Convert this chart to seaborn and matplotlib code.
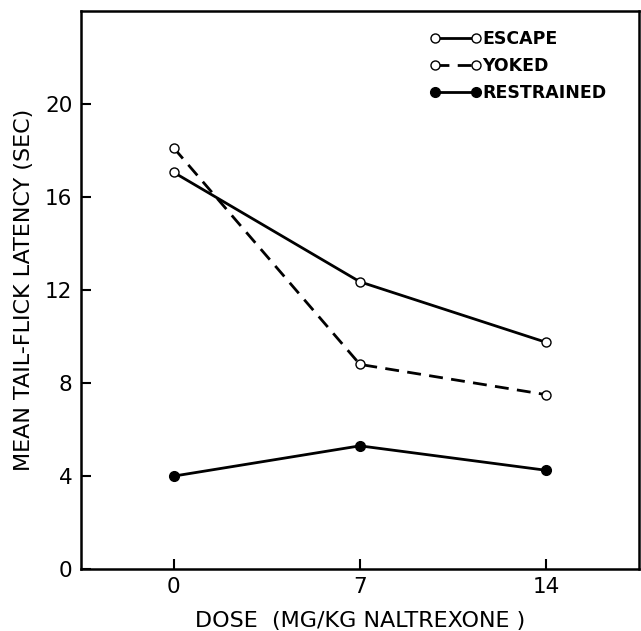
import matplotlib
matplotlib.use("Agg")
import matplotlib.pyplot as plt
import pandas as pd
import seaborn as sns

doses = [0, 7, 14]
escape = [17.05, 12.35, 9.75]
yoked = [18.1, 8.8, 7.5]
restrained = [4.0, 5.3, 4.25]
groups = ["ESCAPE", "YOKED", "RESTRAINED"]
y_ticks = [0, 4, 8, 12, 16, 20]

df = pd.DataFrame({
    "dose": doses * 3,
    "latency": escape + yoked + restrained,
    "group": [g for g in groups for _ in doses],
})

sns.set_style("ticks")
plt.rcParams["font.family"] = ["DejaVu Sans"]
plt.rcParams["text.color"] = "black"
plt.rcParams["axes.labelcolor"] = "black"
plt.rcParams["xtick.color"] = "black"
plt.rcParams["ytick.color"] = "black"

fig = plt.figure(figsize=(6.41, 6.31), dpi=100)
ax = fig.add_axes([0.126, 0.098, 0.871, 0.885])

# open circles for escape / yoked, filled for restrained
styles = {
    "ESCAPE": dict(linestyle="-", markerfacecolor="white", markersize=6.5),
    "YOKED": dict(linestyle=(0, (5, 3)), markerfacecolor="white", markersize=6.5),
    "RESTRAINED": dict(linestyle="-", markerfacecolor="black", markersize=7),
}
for g in groups:
    sub = df[df["group"] == g]
    sns.lineplot(data=sub, x="dose", y="latency", ax=ax, color="black",
                 marker="o", markeredgecolor="black", markeredgewidth=1.0,
                 linewidth=2.0, label=g, **styles[g])

ax.set_xlim(-3.5, 17.5)
ax.set_ylim(0, 24)
ax.set_xticks(doses)
ax.set_yticks(y_ticks)
ax.tick_params(direction="in", length=7, width=1.5, labelsize=15.5, pad=6)
for s in ax.spines.values():
    s.set_linewidth(1.8)
    s.set_visible(True)
    s.set_color("black")

ax.set_xlabel("DOSE  (MG/KG NALTREXONE )", fontsize=16, labelpad=10)
ax.set_ylabel("MEAN TAIL-FLICK LATENCY (SEC)", fontsize=16, labelpad=8)

ax.legend(loc="upper left", bbox_to_anchor=(0.625, 0.965), frameon=False,
          numpoints=2, handlelength=2.95, handletextpad=0.1,
          labelspacing=0.5, borderpad=0, borderaxespad=0,
          prop={"size": 12.5, "weight": "bold"})

fig.savefig("out.png", dpi=100)
